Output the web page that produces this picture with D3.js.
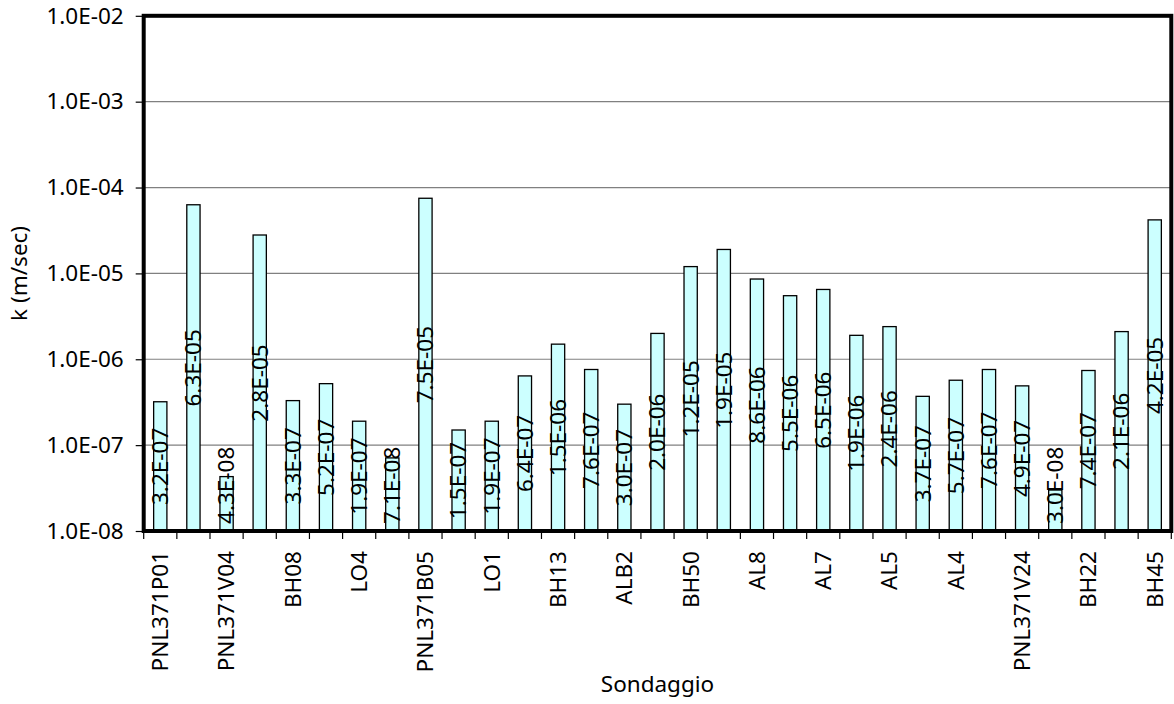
<!DOCTYPE html>
<html>
<head>
<meta charset="utf-8">
<script src="https://cdn.jsdelivr.net/npm/d3@7"></script>
<style>
  html, body { margin: 0; padding: 0; background: #fff; }
  svg { display: block; }
  text { font-family: "Noto Sans", "Open Sans", sans-serif; fill: #000; }
</style>
</head>
<body>
<svg id="chart" width="1174" height="704"></svg>
<script>
// Borehole names (only every other one is printed on the axis)
const categories = [
  "PNL371P01", "", "PNL371V04", "", "BH08", "", "LO4", "", "PNL371B05", "",
  "LO1", "", "BH13", "", "ALB2", "", "BH50", "", "AL8", "", "AL7", "",
  "AL5", "", "AL4", "", "PNL371V24", "", "BH22", "", "BH45"
];

// Hydraulic conductivity k (m/sec)
const kValues = [
  3.2e-7, 6.3e-5, 4.3e-8, 2.8e-5, 3.3e-7, 5.2e-7, 1.9e-7, 7.1e-8, 7.5e-5, 1.5e-7,
  1.9e-7, 6.4e-7, 1.5e-6, 7.6e-7, 3.0e-7, 2.0e-6, 1.2e-5, 1.9e-5, 8.6e-6, 5.5e-6,
  6.5e-6, 1.9e-6, 2.4e-6, 3.7e-7, 5.7e-7, 7.6e-7, 4.9e-7, 3.0e-8, 7.4e-7, 2.1e-6,
  4.2e-5
];

// Decade ticks on the log axis
const yTicks = [1e-8, 1e-7, 1e-6, 1e-5, 1e-4, 1e-3, 1e-2];

const yTitle = "k (m/sec)";
const xTitle = "Sondaggio";

// Scientific notation with a two-digit exponent, e.g. 3.2E-07
function sci(v) {
  const [m, e] = v.toExponential(1).toUpperCase().split("E");
  const n = parseInt(e, 10);
  const sign = n < 0 ? "-" : "+";
  return m + "E" + sign + String(Math.abs(n)).padStart(2, "0");
}

const svg = d3.select("#chart");
const plot = { left: 143.7, right: 1171.3, top: 15.8, bottom: 531 };
const FS = 22.5;

const x = d3.scaleBand()
  .domain(d3.range(kValues.length))
  .range([plot.left, plot.right])
  .paddingInner(0.6)
  .paddingOuter(0.3);

const y = d3.scaleLog()
  .domain([1e-8, 1e-2])
  .range([plot.bottom, plot.top]);

// Horizontal gridlines
svg.append("g")
  .selectAll("line")
  .data(yTicks.slice(1, -1))
  .join("line")
  .attr("x1", plot.left).attr("x2", plot.right)
  .attr("y1", d => y(d)).attr("y2", d => y(d))
  .attr("stroke", "#808080")
  .attr("stroke-width", 1.2);

// Y axis
const yAxis = d3.axisLeft(y)
  .tickValues(yTicks)
  .tickFormat(d => sci(d).replace(/^(\d)E/, "$1.0E"))
  .tickSize(8)
  .tickPadding(12);

const gy = svg.append("g")
  .attr("transform", `translate(${plot.left},0)`)
  .call(yAxis);
gy.select(".domain").remove();
gy.selectAll(".tick line").attr("stroke", "#000").attr("stroke-width", 1.2);
gy.selectAll(".tick text")
  .style("font-size", FS + "px")
  .style("font-family", "'Noto Sans', sans-serif")
  .attr("fill", "#000");

// X axis: ticks at category boundaries, labels rotated
const boundaries = d3.range(kValues.length + 1).map(i => plot.left + i * (plot.right - plot.left) / kValues.length);
svg.append("g")
  .selectAll("line")
  .data(boundaries)
  .join("line")
  .attr("x1", d => d).attr("x2", d => d)
  .attr("y1", plot.bottom).attr("y2", plot.bottom + 8)
  .attr("stroke", "#000")
  .attr("stroke-width", 1.2);

const xAxis = d3.axisBottom(x)
  .tickFormat(i => categories[i])
  .tickSize(0);
const gx = svg.append("g")
  .attr("transform", `translate(0,${plot.bottom})`)
  .call(xAxis);
gx.select(".domain").remove();
gx.selectAll(".tick line").remove();
gx.selectAll(".tick text")
  .style("font-size", FS + "px")
  .style("font-family", "'Noto Sans', sans-serif")
  .attr("fill", "#000")
  .attr("transform", "rotate(-90)")
  .attr("text-anchor", "end")
  .attr("x", -20)
  .attr("y", 0)
  .attr("dy", "0.35em");

// Bars
svg.append("g")
  .selectAll("rect")
  .data(kValues)
  .join("rect")
  .attr("x", (d, i) => x(i))
  .attr("width", x.bandwidth())
  .attr("y", d => y(d))
  .attr("height", d => plot.bottom - y(d))
  .attr("fill", "#ccffff")
  .attr("stroke", "#000")
  .attr("stroke-width", 1.3);

// Value labels, centred in each bar and kept above the baseline
const labels = svg.append("g")
  .selectAll("text")
  .data(kValues)
  .join("text")
  .style("font-size", FS + "px")
  .attr("text-anchor", "middle")
  .attr("dy", "0.35em")
  .text(d => sci(d));
labels.each(function (d, i) {
  const len = this.getComputedTextLength();
  const cx = x(i) + x.bandwidth() / 2;
  let cy = (y(d) + plot.bottom) / 2;
  cy = Math.min(cy, plot.bottom - 7 - len / 2);
  d3.select(this).attr("transform", `translate(${cx},${cy}) rotate(-90)`);
});

// Plot frame
svg.append("rect")
  .attr("x", plot.left).attr("y", plot.top)
  .attr("width", plot.right - plot.left)
  .attr("height", plot.bottom - plot.top)
  .attr("fill", "none")
  .attr("stroke", "#000")
  .attr("stroke-width", 4);

// Axis titles
svg.append("text")
  .attr("transform", `translate(27,${(plot.top + plot.bottom) / 2}) rotate(-90)`)
  .attr("text-anchor", "middle")
  .style("font-size", FS + "px")
  .text(yTitle);

svg.append("text")
  .attr("x", (plot.left + plot.right) / 2)
  .attr("y", 692)
  .attr("text-anchor", "middle")
  .style("font-size", FS + "px")
  .text(xTitle);
</script>
</body>
</html>
